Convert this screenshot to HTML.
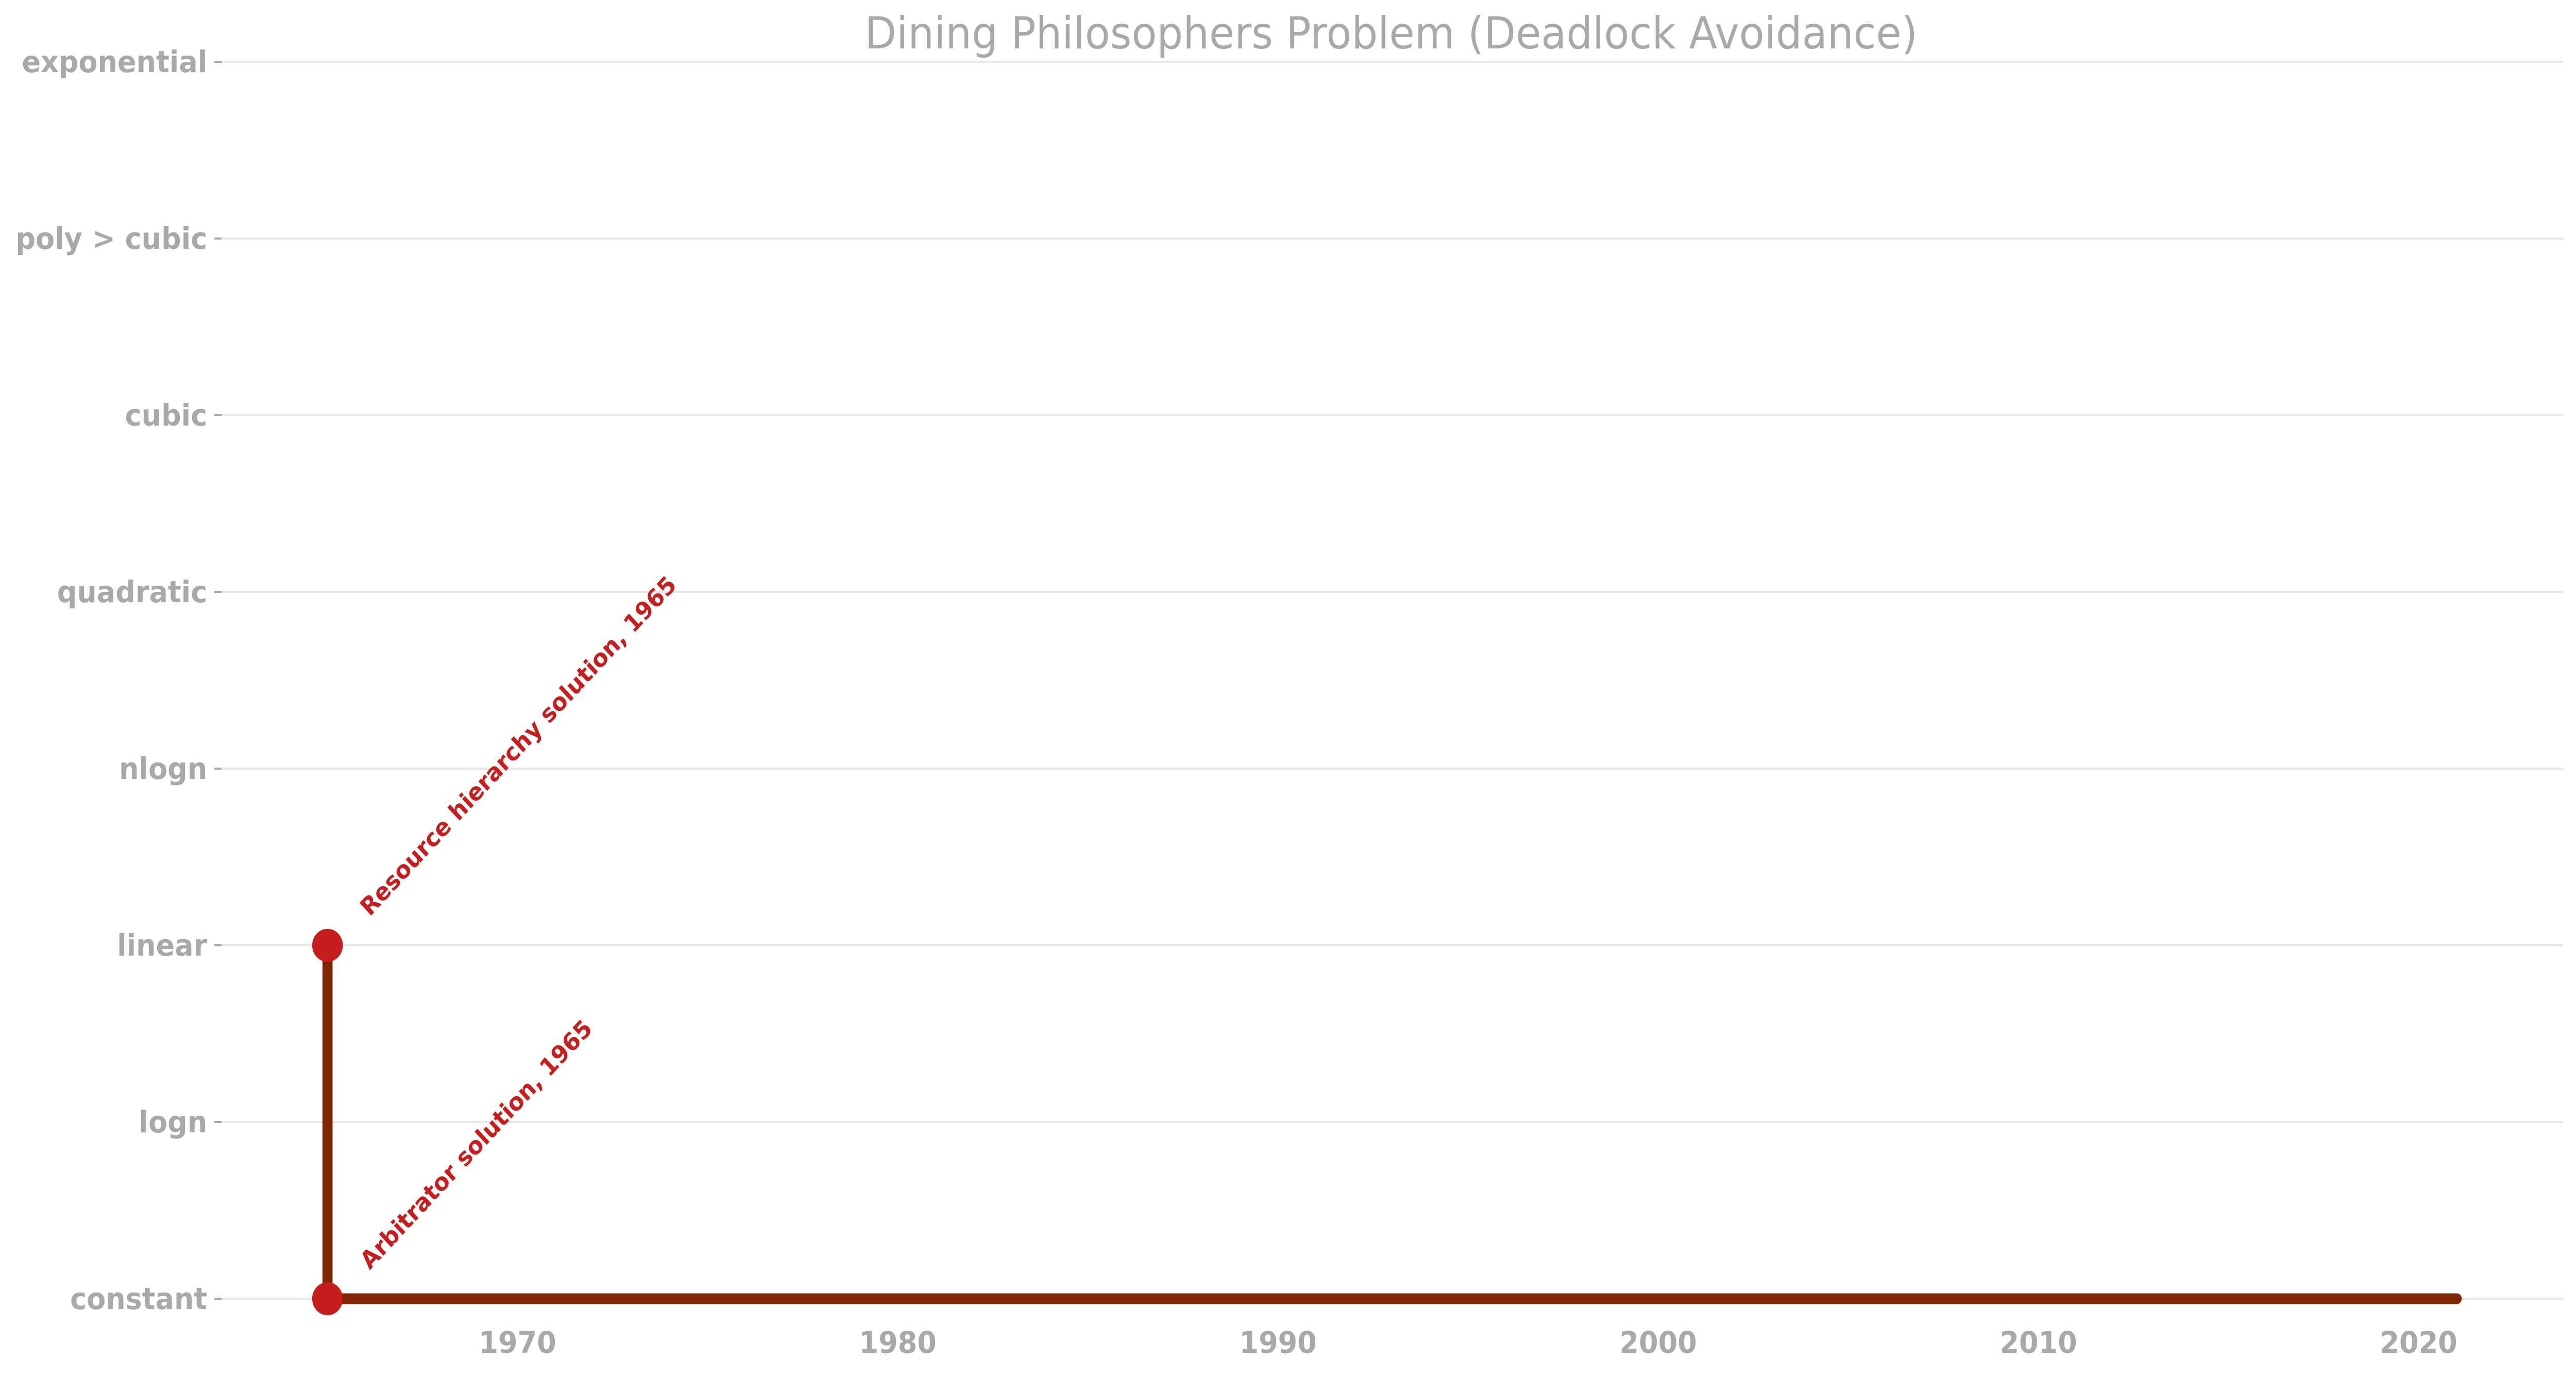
<!DOCTYPE html>
<html><head><meta charset="utf-8"><style>
html,body{margin:0;padding:0;background:#fff;width:100%;height:100%;overflow:hidden;}
svg{display:block;width:100vw;height:100vh;font-family:"DejaVu Sans","Liberation Sans",sans-serif;}
</style></head><body>
<svg id="chart" viewBox="0 0 5370 2671" preserveAspectRatio="none" xmlns="http://www.w3.org/2000/svg">
<text x="2900" y="94" text-anchor="middle" font-size="86" fill="#a9a9a9">Dining Philosophers Problem (Deadlock Avoidance)</text>
<g id="grid"></g>
<g id="yaxis"></g>
<g id="xaxis"></g>
<g id="series"></g>
</svg>
<script>
const yCategories = ["constant","logn","linear","nlogn","quadratic","cubic","poly > cubic","exponential"];
const xTicks = [1970,1980,1990,2000,2010,2020];
const stepYears = [1965,1965,2021];
const stepLevels = [2,0,0];
const pointYears = [1965,1965];
const pointLevels = [0,2];
const pointLabels = ["Arbitrator solution, 1965","Resource hierarchy solution, 1965"];

const NS="http://www.w3.org/2000/svg";
const xScale = y => 1079 + (y-1970)*79.26;
const yScale = i => 2521 - i*343;
function mk(tag, attrs, parent){const e=document.createElementNS(NS,tag);for(const k in attrs)e.setAttribute(k,attrs[k]);parent.appendChild(e);return e;}
const grid=document.getElementById('grid'), ya=document.getElementById('yaxis'), xa=document.getElementById('xaxis'), se=document.getElementById('series');

yCategories.forEach((c,i)=>{
  const y=yScale(i);
  const g=mk('line',{x1:449,x2:5343,y1:y,y2:y,stroke:'#e8e8e8','stroke-width':4},grid);
  
  
  const t=mk('line',{x1:447,x2:462,y1:y,y2:y,stroke:'#a9a9a9','stroke-width':4},ya);
  
  
  const l=mk('text',{x:432,y:y+20,'text-anchor':'end','font-size':58,'font-weight':'bold',fill:'#a9a9a9'},ya);
  l.textContent=c;
  
  
});
xTicks.forEach(v=>{
  const l=mk('text',{x:xScale(v),y:2626,'text-anchor':'middle','font-size':58,'font-weight':'bold',fill:'#a9a9a9'},xa);
  l.textContent=v;
  
  
});
const pts=stepYears.map((y,i)=>xScale(y)+','+yScale(stepLevels[i])).join(' ');
const pl=mk('polyline',{points:pts,fill:'none',stroke:'#7f2704','stroke-width':21,'stroke-linecap':'round','stroke-linejoin':'round'},se);


pointYears.forEach((yr,i)=>{
  const cx=xScale(yr), cy=yScale(pointLevels[i]);
  const c=mk('circle',{cx:cx,cy:cy,r:32,fill:'#c61e1e'},se);
  
  
  const tx=cx+88, ty=cy-55;
  const t=mk('text',{x:tx,y:ty,'font-size':47,'font-weight':'bold',fill:'#c61e1e',transform:'rotate(-45 '+tx+' '+ty+')'},se);
  t.textContent=pointLabels[i];
  
  
});
</script>
</body></html>
